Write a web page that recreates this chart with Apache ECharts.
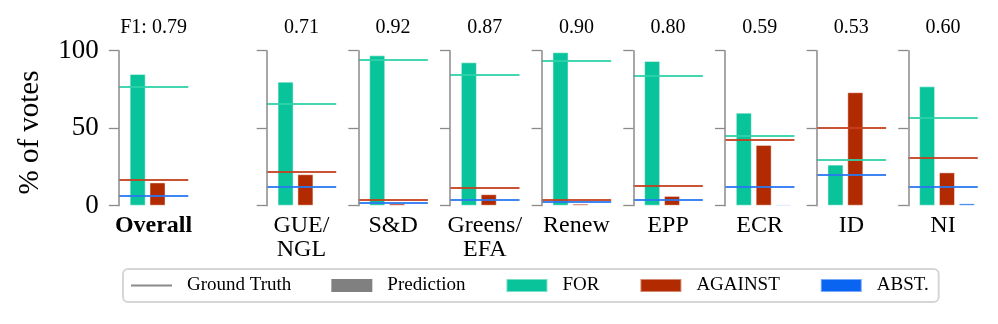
<!DOCTYPE html>
<html>
<head>
<meta charset="utf-8">
<script src="https://cdn.jsdelivr.net/npm/echarts@6/dist/echarts.min.js"></script>
<style>html,body{margin:0;padding:0;background:#fff;}#chart{width:998px;height:324px;}</style>
</head>
<body>
<div id="chart"></div>
<script>
// ---- data ----
var groups = ['Overall', 'GUE/\nNGL', 'S&D', 'Greens/\nEFA', 'Renew', 'EPP', 'ECR', 'ID', 'NI'];
var f1Scores = [0.79, 0.71, 0.92, 0.87, 0.90, 0.80, 0.59, 0.53, 0.60];
var predFor = [85, 80, 97, 92.5, 99, 93.4, 60, 26.5, 77];
var predAgainst = [15, 20.3, 1.5, 7.4, 1.3, 6.3, 39.2, 73.2, 21.5];
var predAbst = [0.4, 0.4, 0.5, 0.3, 0.3, 0.5, 0.8, 0.4, 1.5];
var gtFor = [76.8, 65.8, 94, 84.5, 93.4, 83.9, 45.4, 29.5, 56.8];
var gtAgainst = [17, 22.2, 4.1, 11.6, 4.1, 12.7, 42.6, 50.6, 31.2];
var gtAbst = [6.5, 12.1, 1.9, 4.1, 2.4, 3.9, 12.5, 20, 12.3];
var yTicks = [0, 50, 100];

// ---- style / layout ----
var FONT = 'Liberation Serif';
var C_FOR = '#09C39A', C_AG = '#B22A00', C_AB = '#0A64F2';
var L_FOR = '#2FD1A8', L_AG = '#C4401F', L_AB = '#2A78F2';
var AXIS_C = '#8a8a8a';
var panelLeft = [118.8, 266.7, 358.35, 450, 541.65, 633.3, 724.95, 816.6, 908.25];
var panelW = 69.5, gridTop = 50.7, gridH = 155;

var grids = [], xAxes = [], yAxes = [], series = [], graphics = [];
var cats = [
  {name: 'FOR', pred: predFor, gt: gtFor, c: C_FOR, lc: L_FOR, x: 0},
  {name: 'AGAINST', pred: predAgainst, gt: gtAgainst, c: C_AG, lc: L_AG, x: 1},
  {name: 'ABST.', pred: predAbst, gt: gtAbst, c: C_AB, lc: L_AB, x: 2}
];

// build the Overall panel last so it does not get component index 0
var order = [1, 2, 3, 4, 5, 6, 7, 8, 0];
order.forEach(function (i, k) {
  var g = groups[i];
  grids.push({left: panelLeft[i], top: gridTop, width: panelW, height: gridH});
  xAxes.push({gridIndex: k, type: 'value', min: -0.95, max: 2.55,
    axisLine: {show: false, onZero: false}, axisTick: {show: false}, axisLabel: {show: false}, splitLine: {show: false}});
  yAxes.push({
    gridIndex: k, type: 'value', position: 'left', min: yTicks[0], max: yTicks[2], interval: 50, z: 6,
    splitLine: {show: false},
    axisLine: {show: true, onZero: false, lineStyle: {color: AXIS_C, width: 1.5}},
    axisTick: {show: true, length: 10, inside: false, lineStyle: {color: AXIS_C, width: 1.3}},
    axisLabel: {show: i === 0, fontFamily: FONT, fontSize: 27, margin: 20, color: '#000'}
  });
  cats.forEach(function (c) {
    series.push({
      type: 'bar', name: c.name, xAxisIndex: k, yAxisIndex: k,
      barWidth: 16, barGap: '-100%',
      itemStyle: {color: c.c, borderColor: 'rgba(255,255,255,0.45)', borderWidth: 1},
      data: [[c.x, c.pred[i]]],
      markLine: {
        silent: true, symbol: 'none', z: 5, animation: false,
        label: {show: false},
        lineStyle: {color: c.lc, width: 2, type: 'solid', opacity: 0.9},
        data: [{yAxis: c.gt[i]}]
      }
    });
  });
  var cx = panelLeft[i] + panelW / 2;
  graphics.push({
    type: 'text', x: cx, y: 27.5,
    style: {text: (i === 0 ? 'F1: ' : '') + f1Scores[i].toFixed(2), fill: '#000',
      font: '20px "' + FONT + '"', textAlign: 'center', textVerticalAlign: 'middle'}
  });
  graphics.push({
    type: 'text', x: cx, y: 213.5,
    style: {text: g, fill: '#000', lineHeight: 24,
      font: (i === 0 ? 'bold ' : '') + '24px "' + FONT + '"', textAlign: 'center', textVerticalAlign: 'top'}
  });
});

graphics.push({
  type: 'text', x: 30, y: 132.5, rotation: Math.PI / 2,
  style: {text: '% of votes', fill: '#000', font: '29px "' + FONT + '"', textAlign: 'center', textVerticalAlign: 'middle'}
});

// legend-only series (attached to the first built panel)
series.push({type: 'line', name: 'Ground Truth', xAxisIndex: 0, yAxisIndex: 0, data: [], symbol: 'none', symbolSize: 0,
  itemStyle: {color: '#8a8a8a'}, lineStyle: {color: '#8a8a8a', width: 2.5}});
series.push({type: 'line', name: 'Prediction', xAxisIndex: 0, yAxisIndex: 0, data: [], symbol: 'none',
  itemStyle: {color: '#808080'}, lineStyle: {color: '#808080'}});

var chart = echarts.init(document.getElementById('chart'), null, {renderer: 'canvas'});
chart.setOption({
  animation: false,
  backgroundColor: '#fff',
  grid: grids, xAxis: xAxes, yAxis: yAxes, series: series,
  graphic: graphics,
  legend: {
    left: 123, top: 269, orient: 'horizontal',
    itemWidth: 41, itemHeight: 13, itemGap: 40,
    padding: [7, 10, 7, 7],
    borderColor: '#d6d6d6', borderWidth: 2, borderRadius: 5,
    textStyle: {fontFamily: FONT, fontSize: 19, color: '#000', padding: [0, 0, 0, 10]},
    data: [
      {name: 'Ground Truth', itemStyle: {opacity: 0}},
      {name: 'Prediction', icon: 'rect'},
      {name: 'FOR', icon: 'rect'},
      {name: 'AGAINST', icon: 'rect'},
      {name: 'ABST.', icon: 'rect'}
    ]
  }
});
</script>
</body>
</html>
